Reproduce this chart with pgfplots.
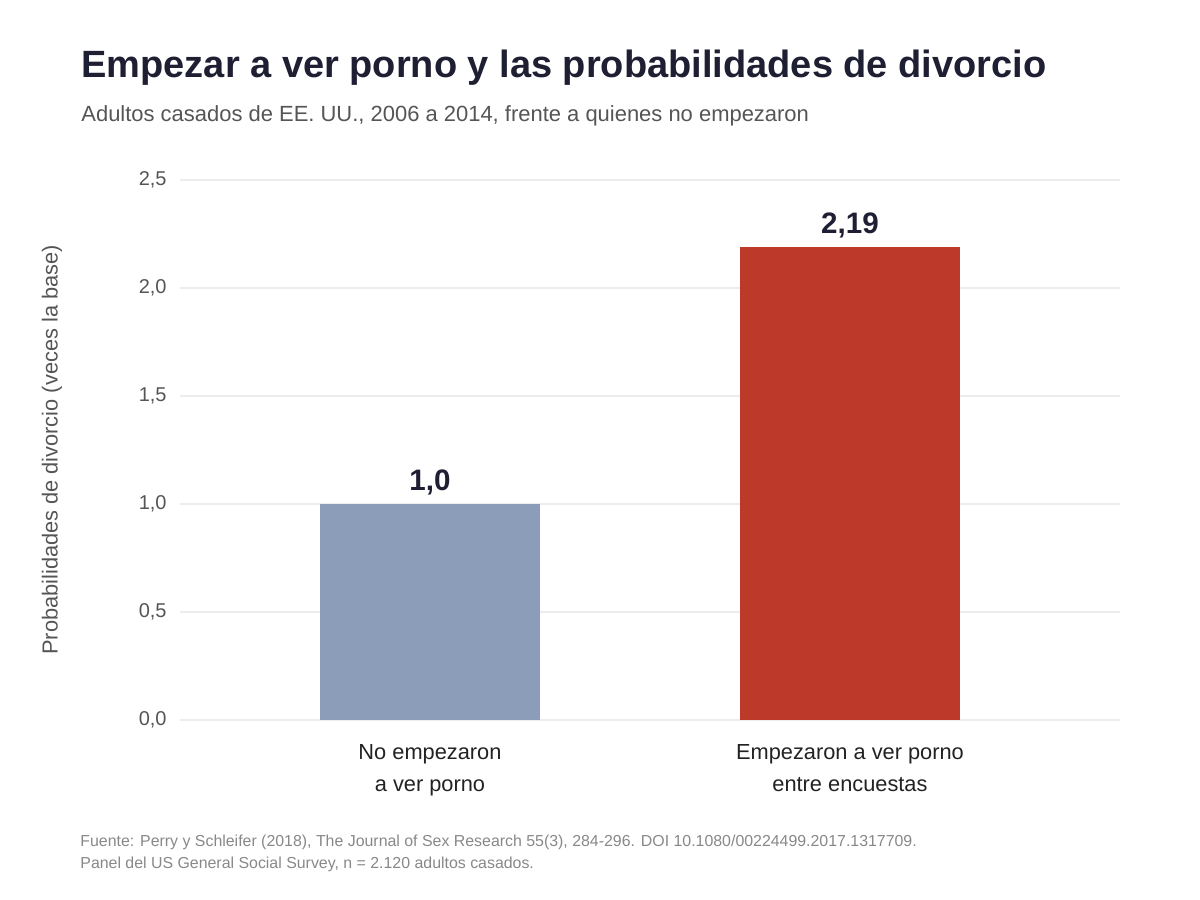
\documentclass[border=0pt]{standalone}
\usepackage{pgfplots}
\pgfplotsset{compat=1.18}
\usepackage{fontspec}
\setmainfont{Liberation Sans}
\definecolor{titlec}{HTML}{1F1F33}
\definecolor{subc}{HTML}{555555}
\definecolor{tickc}{HTML}{555555}
\definecolor{catc}{HTML}{222222}
\definecolor{gridc}{HTML}{EDEDED}
\definecolor{footc}{HTML}{888888}
\definecolor{barblue}{HTML}{8B9DB9}
\definecolor{barred}{HTML}{BD3A2B}
\begin{document}
\begin{tikzpicture}[x=0.5pt,y=0.5pt]
\useasboundingbox (0,0) rectangle (1200,900);
\begin{axis}[
  at={(90pt,90pt)}, anchor=south west,
  scale only axis, width=470pt, height=270pt,
  xmin=-0.5952, xmax=1.6429, ymin=0, ymax=2.5,
  axis line style={draw=none},
  major tick length=0pt,
  ymajorgrids, grid style={gridc, line width=0.75pt},
  xtick={0,1},
  xticklabels={{No empezaron\\a ver porno},{Empezaron a ver porno\\entre encuestas}},
  xticklabel style={align=center, anchor=north, inner sep=0pt, yshift=-12pt,
    font=\fontsize{10.9}{16}\selectfont, text=catc},
  ytick={0,0.5,1,1.5,2,2.5},
  yticklabel style={anchor=east, inner sep=0pt, xshift=-6.5pt,
    font=\fontsize{10}{12}\selectfont, text=tickc},
  /pgf/number format/.cd, use comma, fixed, fixed zerofill, precision=1, assume math mode=true,
  /pgfplots/.cd,
  ybar, bar width=110pt, bar shift=0pt,
  point meta=explicit symbolic,
  nodes near coords,
  nodes near coords style={anchor=base, inner sep=0pt, yshift=6.6pt,
    font=\fontsize{14.8}{17}\selectfont\bfseries, text=titlec},
]
\addplot[draw=none, fill=barblue] coordinates {(0,1.0) [1,0]};
\addplot[draw=none, fill=barred] coordinates {(1,2.19) [2,19]};
\end{axis}
\node[anchor=base west, inner sep=0pt, text=titlec, font=\fontsize{19}{22}\selectfont\bfseries] at (81,822) {Empezar a ver porno y las probabilidades de divorcio};
\node[anchor=base west, inner sep=0pt, text=subc, font=\fontsize{10.98}{13}\selectfont] at (81,778) {Adultos casados de EE. UU., 2006 a 2014, frente a quienes no empezaron};
\node[rotate=90, inner sep=0pt, text=subc, font=\fontsize{10.9}{13}\selectfont] at (52,450) {Probabilidades de divorcio (veces la base)};
\node[anchor=base west, inner sep=0pt, text=footc, font=\fontsize{7.95}{9}\selectfont] at (80,54) {Fuente: Perry y Schleifer (2018), The Journal of Sex Research 55(3), 284-296. DOI 10.1080/00224499.2017.1317709.};
\node[anchor=base west, inner sep=0pt, text=footc, font=\fontsize{7.95}{9}\selectfont] at (80,32) {Panel del US General Social Survey, n = 2.120 adultos casados.};
\end{tikzpicture}
\end{document}
